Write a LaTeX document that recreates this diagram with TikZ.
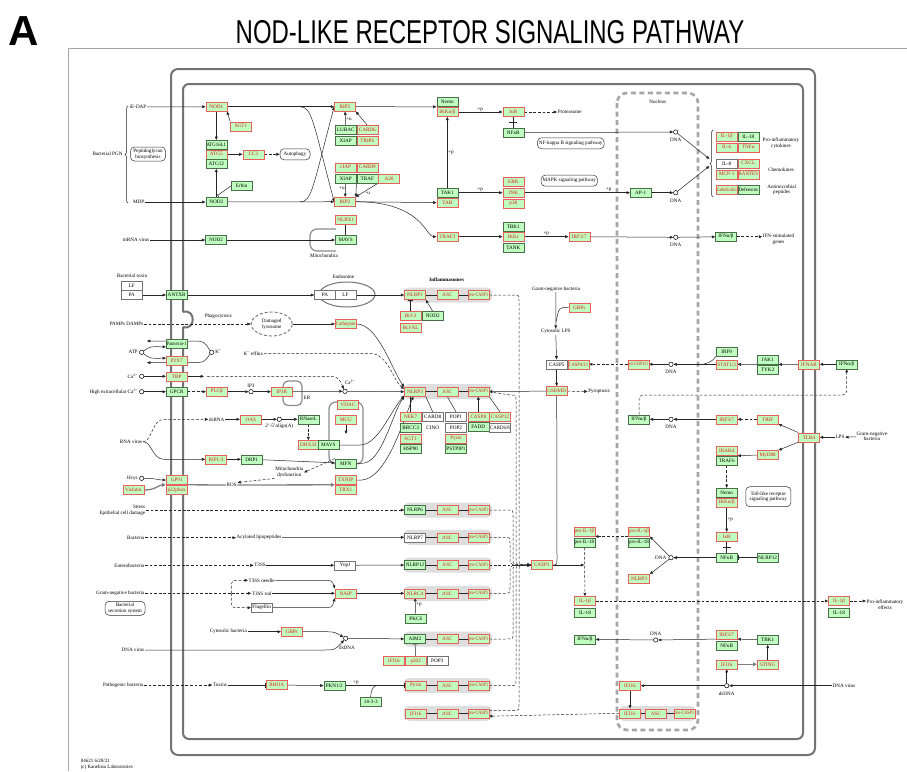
\documentclass[tikz,border=0pt]{standalone}
\usepackage{fontspec}
\usepackage{graphicx}
\setmainfont{Liberation Serif}
\newfontfamily\tf{Liberation Sans}
\usetikzlibrary{arrows.meta,decorations.pathreplacing,calc,shapes.geometric}
\pgfdeclarelayer{bg}
\pgfsetlayers{bg,main}
\definecolor{kfill}{HTML}{BFFFBF}
\definecolor{kred}{HTML}{E8605A}
\definecolor{ktxt}{HTML}{E01818}
\definecolor{kgrn}{HTML}{4A6E4A}
\newcommand{\gfs}{\fontsize{5.2}{5.2}\selectfont}
\newcommand{\lfs}{\fontsize{5.1}{5.7}\selectfont}
\newcommand{\fitt}[1]{\sbox0{#1}\ifdim\wd0>19.6pt\resizebox{19.6pt}{\height}{#1}\else#1\fi}
\newcommand{\gn}[5]{\node[#1] (#2) at (#3,#4) {\fitt{#5}};}
\tikzset{
 gbox/.style={rectangle, minimum width=21pt, minimum height=9pt, inner sep=0pt, line width=0.6pt, font=\gfs, fill=kfill},
 R/.style={gbox, draw=kred, text=ktxt},
 G/.style={gbox, draw=kgrn, text=black},
 W/.style={gbox, draw=black!55, fill=white, text=black},
 lab/.style={font=\lfs, inner sep=0.6pt, align=center, text=black},
 pbox/.style={draw=black!80, rounded corners=4pt, font=\lfs, align=center, inner sep=1.5pt, line width=0.5pt, fill=white},
 circ/.style={circle, draw=black, fill=white, inner sep=0pt, minimum size=4.4pt, line width=0.5pt},
 ln/.style={line width=0.5pt, draw=black!85},
 ar/.style={ln, -{Triangle[length=3.3pt,width=2.8pt]}},
 inh/.style={ln, -{Bar[width=5pt]}},
 ds/.style={dash pattern=on 2.8pt off 1.8pt},
 thk/.style={line width=1.3pt, draw=black!50},
 thkar/.style={thk, -{Triangle[length=3.8pt,width=3.8pt]}},
 frm/.style={draw=black!55, line width=2pt},
 ibg/.style={fill=black!13, rounded corners=5pt},
 mit/.style={draw=black!45, line width=1.2pt, rounded corners=7pt},
}
\begin{document}
\begin{tikzpicture}[x=1pt,y=-1pt]
\useasboundingbox (0,0) rectangle (907,771);
\begin{pgfonlayer}{bg}
\fill[white] (0,0) rectangle (907,771);
\draw[black!35, line width=0.6pt] (68,771) -- (68,48) -- (907,48);
\draw[frm, rounded corners=7pt] (171,69) rectangle (815,755);
\draw[frm, rounded corners=6pt] (183,312) -- (183,84) -- (803,84) -- (803,739) -- (183,739) -- (183,327);
\draw[frm] (183,312) .. controls (196,308) and (196,331) .. (183,327);
\draw[draw=black!35, line width=2.6pt, dash pattern=on 5pt off 3.5pt, rounded corners=10pt] (617,93) rectangle (698,730);
% mitochondria / ER / endosome
\draw[mit] (336,229) -| (310,251) -- (336,251);
\draw[mit] (329,402) rectangle (363,464);
\draw[mit, rounded corners=5pt] (283,381) rectangle (302,405.5);
\draw[black!55, line width=1pt] (347,294.5) ellipse [x radius=28, y radius=12.5];
% inflammasome backgrounds
\foreach \yy in {295,391.7,510,537.3,565,593.3,639,685.7,713.3}{\fill[ibg] (403.5,\yy-7.5) rectangle (492,\yy+7.5);}
\fill[ibg] (619,706) rectangle (696,721);
\end{pgfonlayer}

% title
\node[font=\tf\bfseries\fontsize{42}{42}\selectfont, inner sep=0] (A) at (24,31) {A};
\node[font=\tf\fontsize{33}{33}\selectfont, inner sep=0] (title) at (490,32) {\scalebox{0.726}[1]{NOD-LIKE RECEPTOR SIGNALING PATHWAY}};

% ---------- gene boxes ----------
\gn{R}{NOD1}{216.3}{106.7}{NOD1}
\gn{R}{SGTa}{241}{126.3}{SGT1}
\gn{G}{ATGa}{216.3}{144.7}{ATG16L1}
\gn{R}{ATGb}{216.3}{154.3}{ATG5}
\gn{G}{ATGc}{216.3}{164}{ATG12}
\gn{R}{LC3}{253.3}{154.3}{LC3}
\gn{G}{Erbin}{241.7}{186}{Erbin}
\gn{G}{NOD2a}{216.3}{202}{NOD2}
\gn{R}{RIPa}{345}{106.7}{RIP2}
\gn{G}{LUBAC}{345.7}{130}{LUBAC}
\gn{R}{CARD6}{367.3}{130}{CARD6}
\gn{G}{XIAPa}{345.7}{141}{XIAP}
\gn{R}{TRIP6}{367.3}{141}{TRIP6}
\gn{R}{cIAP}{345.7}{167.3}{cIAP}
\gn{R}{CARD9}{367.3}{167.3}{CARD9}
\gn{G}{XIAPb}{345.7}{178.3}{XIAP}
\gn{G}{TRAF}{367.3}{178.3}{TRAF}
\gn{R}{A20}{389}{178.3}{A20}
\gn{R}{RIPb}{345}{201.7}{RIP2}
\gn{R}{NLRX1}{345.7}{219.3}{NLRX1}
\gn{G}{MAVSa}{345.7}{240}{MAVS}
\gn{G}{NOD2b}{216}{240}{NOD2}
\gn{G}{Nemoa}{447.3}{102}{Nemo}
\gn{R}{IKKa}{447.3}{112}{IKKα/β}
\gn{R}{IkBa}{513.3}{112}{IκB}
\gn{G}{NFkBa}{513.3}{132.7}{NFκB}
\gn{G}{TAK1}{447.3}{192.7}{TAK1}
\gn{R}{TAB}{447.3}{202.7}{TAB}
\gn{R}{ERK}{513.3}{181.7}{ERK}
\gn{R}{JNK}{513.3}{192.7}{JNK}
\gn{R}{p38}{513.3}{203.3}{p38}
\gn{G}{AP1}{640.7}{192.7}{AP-1}
\gn{R}{TRAF3}{447.3}{236.7}{TRAF3}
\gn{G}{TBK1a}{513.3}{226.7}{TBK1}
\gn{R}{IKKe}{513.3}{236.7}{IKKε}
\gn{G}{TANK}{513.3}{247.3}{TANK}
\gn{R}{IRFa}{579.3}{236.7}{IRF3/7}
\gn{G}{IFNa}{726}{236.7}{IFNα/β}
\gn{R}{IL1ba}{726.7}{136.3}{IL-1β}
\gn{G}{IL18a}{748.3}{136.3}{IL-18}
\gn{R}{IL6}{726.7}{147.3}{IL-6}
\gn{R}{TNFa}{748.3}{147.3}{TNFα}
\gn{W}{IL8}{726.7}{163.3}{IL-8}
\gn{R}{CXCL}{748.3}{163.3}{CXCL}
\gn{R}{MCP1}{726.7}{174.3}{MCP-1}
\gn{R}{RANTES}{748.3}{174.3}{RANTES}
\gn{R}{Cathel}{726.7}{189.3}{Cathelicidin}
\gn{G}{Defens}{748.3}{189.3}{Defensins}
\gn{W}{LFa}{131.7}{285.7}{LF}
\gn{W}{PAa}{131.7}{295}{PA}
\gn{G}{ANTXR}{176.7}{295}{ANTXR}
\gn{W}{PAb}{325}{295}{PA}
\gn{W}{LFb}{345.5}{295}{LF}
\gn{R}{Cathep}{345.7}{324}{Cathepsin}
\gn{R}{NLRP1}{415}{295}{NLRP1}
\gn{R}{ASCa}{447.3}{295}{ASC}
\gn{R}{pCa}{478.3}{295}{pro-CASP1}
\gn{R}{Bcl2}{410.7}{316}{Bcl-2}
\gn{R}{BclXL}{410.7}{327.7}{Bcl-XL}
\gn{G}{NOD2c}{432.7}{316}{NOD2}
\gn{R}{GBPsa}{579.3}{307.3}{GBPs}
\gn{W}{CASP5}{556.7}{364.3}{CASP5}
\gn{R}{CASP411}{578.3}{364.3}{CASP4/11}
\gn{R}{pC411}{638.3}{364.3}{pro-CASP4/11}
\gn{R}{GSDMD}{556.7}{391}{GSDMD}
\gn{G}{IRF9}{726.7}{351.7}{IRF9}
\gn{R}{STAT}{726.7}{364.3}{STAT1/2}
\gn{G}{JAK1}{767.7}{359.7}{JAK1}
\gn{G}{TYK2}{767.7}{369.3}{TYK2}
\gn{R}{IFNAR}{809}{364.3}{IFNAR}
\gn{G}{IFNb}{846.7}{364.3}{IFNα/β}
\gn{G}{Panx}{176.7}{344}{Pannexin-1}
\gn{R}{P2X7}{176.7}{361}{P2X7}
\gn{R}{TRP}{176.7}{376.3}{TRP}
\gn{G}{GPCR}{176.7}{391.7}{GPCR}
\gn{R}{PLCb}{216.7}{391.7}{PLCβ}
\gn{R}{IP3R}{281.7}{391.7}{IP3R}
\gn{R}{VDAC}{348}{405}{VDAC}
\gn{R}{MCU}{346}{419.3}{MCU}
\gn{R}{NLRP3}{415}{391.7}{NLRP3}
\gn{R}{ASCc}{447.3}{391.7}{ASC}
\gn{R}{pCc}{478.3}{391.7}{pro-CASP1}
\gn{R}{NEK7}{410.7}{416.7}{NEK7}
\gn{W}{CARD8}{432.7}{416.7}{CARD8}
\gn{W}{POP1}{456}{416.7}{POP1}
\gn{R}{CASP8}{478.3}{416.7}{CASP8}
\gn{R}{CASP12}{500}{416.7}{CASP12}
\gn{G}{BRCC3}{410.7}{427.3}{BRCC3}
\node[lab,font=\gfs] (CINO) at (432.7,427.3) {CINO};
\gn{W}{POP2}{456}{427.3}{POP2}
\gn{G}{FADD}{478.3}{426.3}{FADD}
\gn{W}{CARD68}{500}{427.3}{CARD6/8}
\gn{R}{SGTb}{410.7}{438.3}{SGT1}
\gn{G}{HSP90}{410.7}{448.3}{HSP90}
\gn{R}{Pyrina}{456}{438.3}{Pyrin}
\gn{G}{PSTPIP1}{456}{448.3}{PSTPIP1}
\gn{R}{OAS}{250.7}{419.3}{OAS}
\gn{G}{RNaseL}{308.3}{419.3}{RNaseL}
\gn{R}{DHX33}{308.3}{445}{DHX33}
\gn{G}{MAVSb}{328.3}{445}{MAVS}
\gn{R}{RIP13}{216}{459.3}{RIP1/3}
\gn{G}{DRP1}{251.7}{459.3}{DRP1}
\gn{G}{MFN}{345.7}{463.3}{MFN}
\gn{R}{GP91}{176.7}{480}{GP91}
\gn{R}{p22}{176.7}{490}{p22phox}
\gn{R}{Visf}{133.3}{490}{Visfatin}
\gn{R}{TXNIP}{345.7}{480}{TXNIP}
\gn{R}{TRX1}{345.7}{490}{TRX1}
\gn{G}{NLRP6}{415}{510}{NLRP6}
\gn{R}{ASC6}{447.3}{510}{ASC}
\gn{R}{pC6}{478.3}{510}{pro-CASP1}
\gn{W}{NLRP7}{415}{537.3}{NLRP7}
\gn{R}{ASC7}{447.3}{537.3}{ASC}
\gn{R}{pC7}{478.3}{537.3}{pro-CASP1}
\gn{W}{YopJ}{345}{565.3}{YopJ}
\gn{G}{NLRP12a}{415}{565}{NLRP12}
\gn{R}{ASC12}{447.3}{565}{ASC}
\gn{R}{pC12}{478.3}{565}{pro-CASP1}
\gn{R}{CASP1}{541.7}{565}{CASP1}
\gn{R}{proIL1a}{584.3}{531.7}{pro-IL-1β}
\gn{G}{proIL18a}{584.3}{542.7}{pro-IL-18}
\gn{G}{IFNc}{639}{419.3}{IFNα/β}
\gn{R}{IRFb}{726.7}{419.3}{IRF3/7}
\gn{R}{TRIF}{767.7}{419.3}{TRIF}
\gn{R}{TLR4}{809}{437.3}{TLR4}
\gn{R}{MyD88}{767.7}{455}{MyD88}
\gn{R}{IRAK4}{726.7}{451}{IRAK4}
\gn{G}{TRAF6}{726.7}{460.7}{TRAF6}
\gn{G}{Nemob}{726.7}{492.7}{Nemo}
\gn{R}{IKKb}{726.7}{502.7}{IKKα/β}
\gn{R}{IkBb}{726.7}{536.7}{IκB}
\gn{G}{NFkBb}{726.7}{557.7}{NFκB}
\gn{G}{NLRP12b}{767.7}{557.7}{NLRP12}
\gn{R}{proIL1b}{639}{531.7}{pro-IL-1β}
\gn{G}{proIL18b}{639}{542.7}{pro-IL-18}
\gn{R}{NLRP3b}{639}{579}{NLRP3}
\gn{W}{Flag}{261.7}{607.7}{Flagellin}
\gn{R}{NAIP}{345.7}{593.3}{NAIP}
\gn{R}{NLRC4}{415}{593.3}{NLRC4}
\gn{R}{ASC4}{447.3}{593.3}{ASC}
\gn{R}{pC4}{478.3}{593.3}{pro-CASP1}
\gn{G}{PKCd}{415.7}{618.3}{PKCδ}
\gn{R}{GBPsb}{291.7}{631.7}{GBPs}
\gn{G}{AIM2}{415}{639}{AIM2}
\gn{R}{ASCm}{447.3}{639}{ASC}
\gn{R}{pCm}{478.3}{639}{pro-CASP1}
\gn{R}{IFI16a}{394}{661}{IFI16}
\gn{R}{p202}{415.7}{661}{p202}
\gn{W}{POP3}{437.3}{661}{POP3}
\gn{R}{RHOA}{276.7}{685}{RHOA}
\gn{G}{PKN}{334.3}{685.7}{PKN1/2}
\gn{G}{P1433}{370.7}{701.7}{14-3-3}
\gn{R}{Pyrinb}{415.7}{685.7}{Pyrin}
\gn{R}{ASCp}{447.3}{685.7}{ASC}
\gn{R}{pCp}{478.3}{685.7}{pro-CASP1}
\gn{R}{IFI16b}{415.7}{713.3}{IFI16}
\gn{R}{ASCi}{447.3}{713.3}{ASC}
\gn{R}{pCi}{478.3}{713.3}{pro-CASP1}
\gn{R}{IL1bb}{585}{601}{IL-1β}
\gn{G}{IL18b}{585}{612.3}{IL-18}
\gn{G}{IFNd}{585}{639.3}{IFNα/β}
\gn{R}{IRFc}{726.7}{634.3}{IRF3/7}
\gn{G}{NFkBc}{726.7}{645.7}{NFκB}
\gn{G}{TBK1b}{767.7}{640}{TBK1}
\gn{R}{IFI16c}{726.7}{664.3}{IFI16}
\gn{R}{STING}{767.7}{664.3}{STING}
\gn{R}{IFI16d}{630}{685.7}{IFI16}
\gn{R}{IFI16e}{630}{713.3}{IFI16}
\gn{R}{ASCn}{656}{713.3}{ASC}
\gn{R}{pCn}{684.3}{713.3}{pro-CASP1}
\gn{R}{IL1bc}{839}{601}{IL-1β}
\gn{G}{IL18c}{839}{612.3}{IL-18}

% ---------- small circles ----------
\node[circ] (dna1) at (675.7,132) {};
\node[circ] (dna2) at (675.7,192.7) {};
\node[circ] (dna3) at (675.7,237.3) {};
\node[circ] (atpc) at (141.7,352.3) {};
\node[circ] (kc) at (211.7,352.3) {};
\node[circ] (ca1c) at (141.7,376.3) {};
\node[circ] (ca2c) at (141.7,391.7) {};
\node[circ] (ip3c) at (251,391.7) {};
\node[circ] (ca3c) at (345,391.3) {};
\node[circ] (oligoc) at (279.3,419.3) {};
\node[circ] (hcysc) at (141.7,478.3) {};
\node[circ] (dsdna1) at (345.7,638.3) {};
\node[circ] (dna4) at (671,364.3) {};
\node[circ] (dna5) at (671,419.3) {};
\node[circ] (dna6) at (671,557.7) {};
\node[circ] (dna7) at (655.7,640) {};
\node[circ] (dsdna2) at (726.7,685.7) {};

% ---------- text labels ----------
\node[lab,anchor=east] (iedap) at (147,107) {iE-DAP};
\node[lab,anchor=east] (mdp) at (145,202) {MDP};
\node[lab] (pgn) at (107.5,154) {Bacterial PGN};
\node[pbox, minimum width=35pt, minimum height=14pt] (pgnsyn) at (148,154) {Peptidoglycan\\biosynthesis};
\node[pbox, minimum width=30pt, minimum height=11pt] (autoph) at (295,154.3) {Autophagy};
\node[lab,anchor=west] (proteas) at (557,112) {Proteasome};
\node[pbox, minimum height=11pt] (nfkbpw) at (570.7,143.3) {NF-kappa B signaling pathway};
\node[pbox, minimum height=11pt] (mapkpw) at (569.3,180.7) {MAPK signaling pathway};
\node[lab] (nucl) at (657.7,101.7) {Nucleus};
\node[lab] (dnal1) at (675.7,140) {DNA};
\node[lab] (dnal2) at (675.7,200.5) {DNA};
\node[lab] (dnal3) at (675.7,245) {DNA};
\node[lab] (cytok) at (781,143) {Pro-inflammatory\\cytokines};
\node[lab] (chemok) at (781,169.3) {Chemokines};
\node[lab] (amp) at (781.7,189.7) {Antimicrobial\\peptides};
\node[lab] (isg) at (778.5,239.5) {IFN-stimulated\\genes};
\node[lab,anchor=east] (mrna) at (150,240) {mRNA virus};
\node[lab] (mito1) at (324,256) {Mitochondria};
\node[lab] (btox) at (132,276) {Bacterial toxin};
\node[lab] (endo) at (343.3,277) {Endosome};
\node[lab] (phago) at (218.3,316.7) {Phagocytosis};
\node[lab,anchor=east] (pamps) at (144,324) {PAMPs DAMPs};
\node[ellipse, draw=black!55, line width=0.9pt, dash pattern=on 3pt off 2pt, minimum width=41pt, minimum height=24pt, inner sep=0, font=\lfs, align=center, fill=white] (dlys) at (271.7,324) {Damaged\\lysosome};
\node[lab,anchor=east] (atpl) at (138.5,352.3) {ATP};
\node[lab,anchor=west] (kl) at (214.5,351.8) {K\textsuperscript{+}};
\node[lab] (keff) at (253.3,353.3) {K\textsuperscript{+} efflux};
\node[lab,anchor=east] (cal) at (138.5,376.3) {Ca\textsuperscript{2+}};
\node[lab,anchor=east] (hecl) at (138.5,391.7) {High extracellular Ca\textsuperscript{2+}};
\node[lab] (ip3l) at (251,386) {IP3};
\node[lab] (erl) at (307,398) {ER};
\node[lab] (ca3l) at (350,382.5) {Ca\textsuperscript{2+}};
\node[lab,font=\bfseries\lfs] (inflt) at (446.7,280) {Inflammasomes};
\node[lab] (gnb1) at (556,289) {Gram-negative bacteria};
\node[lab] (clps) at (555.7,331.7) {Cytosolic LPS};
\node[lab,anchor=west] (pyro) at (587.5,391.7) {Pyroptosis};
\node[lab] (dnal4) at (671,372) {DNA};
\node[lab] (dsrna) at (216.7,419.3) {dsRNA};
\node[lab] (oligol) at (279.3,426.7) {2'-5'oligo(A)};
\node[lab,anchor=east] (rnav) at (143,441.7) {RNA virus};
\node[lab] (mitod) at (289.3,472.5) {Mitochondria\\dysfunction};
\node[lab,anchor=east] (hcysl) at (138.5,478.3) {Hcys};
\node[lab] (ros) at (231.7,485) {ROS};
\node[lab,anchor=east,align=right] (stress) at (146,510.5) {Stress\\Epithelial cell damage};
\node[lab,anchor=east] (bact) at (145,537.7) {Bacteria};
\node[lab] (acyl) at (259,537.7) {Acylated lipopeptides};
\node[lab,anchor=east] (entb) at (145,565.3) {Enterobacteria};
\node[lab] (t3ss) at (260,565.3) {T3SS};
\node[lab] (t3nd) at (261.7,580.3) {T3SS needle};
\node[lab,anchor=east] (gnb3) at (145,593.3) {Gram-negative bacteria};
\node[pbox, minimum width=40pt, minimum height=14pt] (bss) at (125,608.3) {Bacterial\\secretion system};
\node[lab] (t3rod) at (261.7,593.3) {T3SS rod};
\node[lab] (cytb) at (228.3,631.7) {Cytosolic bacteria};
\node[lab] (dsdnal1) at (347,647.5) {dsDNA};
\node[lab,anchor=east] (dnav1) at (145,650) {DNA virus};
\node[lab,anchor=east] (pathb) at (144,685) {Pathogenic bacteria};
\node[lab] (toxins) at (220,685) {Toxins};
\node[lab] (dnal5) at (671,427) {DNA};
\node[lab] (lps) at (840,437.3) {LPS};
\node[lab] (gnb2) at (872,436.3) {Gram-negative\\bacteria};
\node[pbox, minimum width=45pt, minimum height=20pt] (tlrpw) at (768.3,496.7) {Toll-like receptor\\signaling pathway};
\node[lab,anchor=east] (dnal6) at (667,557.7) {DNA};
\node[lab] (dnal7) at (655.7,634) {DNA};
\node[lab] (dsdnal2) at (726.7,694) {dsDNA};
\node[lab] (dnav2) at (844,685.7) {DNA virus};
\node[lab] (proeff) at (885,605) {Pro-inflammatory\\effects};
\node[lab,anchor=west,font=\fontsize{5}{5}\selectfont] (date) at (80,761) {04621 6/20/21};
\node[lab,anchor=west,font=\fontsize{5}{5}\selectfont] (copy) at (80,767) {(c) Kanehisa Laboratories};

% coordinates for free ends
\coordinate (br1) at (709.5,159);
\coordinate (br2) at (709.5,166);
\coordinate (katp1) at (147,341);
\coordinate (katp2) at (147,362.7);
\coordinate (trpe) at (204,376.3);
\coordinate (trpd) at (207,376.3);
\coordinate (mcue) at (346,434);
\coordinate (gbpj) at (556,322);
\coordinate (pilj) at (584.3,565);
\coordinate (gbr) at (231.7,593.3);
\coordinate (j1433) at (376,685.7);

% ---------- connectors ----------
\begin{pgfonlayer}{bg}
\draw[ln, decorate, decoration={brace, amplitude=3pt}] (128,203) -- (128,106);
\draw[ln, decorate, decoration={brace, amplitude=3pt}] (713,197) -- (713,130);
\draw[ar] (iedap) -- (NOD1);
\draw[ar] (mdp) -- (NOD2a);
\draw[ar] (SGTa.north west) -- (NOD1.south east);
\draw[ar] (NOD1) -- (ATGa);
\draw[ar] (NOD2a) -- (ATGc);
\draw[ar] (ATGb) -- (LC3);
\draw[ar,ds] (LC3) -- (autoph);
\draw[inh] (Erbin.west) -- (217.5,195.5);
\draw[ar] (NOD1) -- (RIPa);
\draw[ar] (NOD2a) -- (RIPb);
\draw[ar] (300,106.7) .. controls (312,106.7) and (313,122) .. (RIPb.west);
\draw[ar] (300,202) .. controls (312,202) and (313,186) .. (RIPa.west);
\draw[ar] (LUBAC) -- node[lab,right,pos=0.45]{+u} (RIPa);
\draw[ar] (CARD6.north) -- (RIPa.south east);
\draw[ar] (XIAPb) -- node[lab,left,pos=0.35]{+u} (RIPb);
\draw[ar] (TRAF.south west) -- (RIPb.north east);
\draw[ar] (A20.south west) -- node[lab,below right,pos=0.6]{-u} (RIPb.north east);
\draw[ar] (RIPa.east) -- (Nemoa.south west);
\draw[ar] (IKKa) -- node[lab,above]{+p} (IkBa);
\draw[ar,ds] (IkBa) -- (proteas);
\draw[ln] (IkBa) -- (NFkBa);
\draw[ln] ($(IkBa.south)!0.5!(NFkBa.north)+(-4,0)$) -- ++(8,0);
\draw[ar] (NFkBa) -- (dna1);
\draw[ar] (dna1) -- (br1);
\draw[ar] (TAK1) -- node[lab,right]{+p} (IKKa);
\draw[ar] (RIPb) -- (TAB);
\draw[ar] (TAK1) -- node[lab,above]{+p} (JNK);
\draw[ar] (JNK) -- node[lab,above,pos=0.8]{+p} (AP1);
\draw[ar] (AP1) -- (dna2);
\draw[ar] (dna2) -- (br2);
\draw[ar] (RIPb.east) .. controls (422,201.7) and (426,236.7) .. (TRAF3.west);
\draw[ar] (TRAF3) -- (IKKe);
\draw[ar] (IKKe) -- node[lab,above]{+p} (IRFa);
\draw[ar] (IRFa) -- (dna3);
\draw[ar] (dna3) -- (IFNa);
\draw[ar,ds] (IFNa) -- (isg.west |- IFNa);
\draw[ar] (mrna) -- (NOD2b);
\draw[ar] (NOD2b) -- (MAVSa);
\draw[inh] (NLRX1) -- (MAVSa);
\draw[ar] (PAa) -- (ANTXR);
\draw[ar] (ANTXR) -- (PAb);
\draw[ar] (LFb) -- (NLRP1);
\draw[ar,ds] (pamps) -- (dlys);
\draw[ar] (dlys) -- (Cathep);
\draw[ar] (Cathep.east) .. controls (378,324) and (392,370) .. (NLRP3.north west);
\draw[ar,ds] (keff.east) -- (370,353.3) .. controls (388,353.3) and (394,382) .. (NLRP3.165);
\draw[ar] (atpc) .. controls (150,346.5) .. (Panx.195);
\draw[ar] (atpc) .. controls (150,358.5) .. (P2X7.165);
\draw[ar] (kc.north west) .. controls (204,341) .. (192,341) -- (katp1);
\draw[ar] (kc.south west) .. controls (204,362.7) .. (192,362.7) -- (katp2);
\draw[ar] (ca1c) -- (TRP);
\draw[ar] (TRP) -- (trpe);
\draw[ar,ds] (trpd) -- (322,376.3) .. controls (338,376.3) .. (ca3c);
\draw[ar] (ca2c) -- (GPCR);
\draw[ar,ds] (GPCR) -- (PLCb);
\draw[ar] (PLCb) -- (ip3c);
\draw[ar] (ip3c) -- (IP3R);
\draw[ar] (IP3R) -- (ca3c);
\draw[ar] (ca3c) -- (NLRP3.west);
\draw[ar] (MAVSb.east) -- (360,445) .. controls (378,445) and (390,412) .. (NLRP3.200);
\draw[ar] (MFN.east) -- (362,463.3) .. controls (382,463.3) and (392,414) .. (NLRP3.south west);
\draw[ar] (TXNIP.east) -- (362,480) .. controls (386,478) and (402,425) .. (NLRP3.250);
\draw[ln] (NLRP1) -- (ASCa) -- (pCa);
\draw[ln] (NLRP3) -- (ASCc) -- (pCc);
\draw[ln] (NLRP6) -- (ASC6) -- (pC6);
\draw[ln] (NLRP7) -- (ASC7) -- (pC7);
\draw[ln] (NLRP12a) -- (ASC12) -- (pC12);
\draw[ln] (NLRC4) -- (ASC4) -- (pC4);
\draw[ln] (AIM2) -- (ASCm) -- (pCm);
\draw[ln] (Pyrinb) -- (ASCp) -- (pCp);
\draw[ln] (IFI16b) -- (ASCi) -- (pCi);
\draw[ln] (IFI16e) -- (ASCn) -- (pCn);
\draw[inh] (Bcl2.north) -- (Bcl2.north |- NLRP1.south);
\draw[ar] (NOD2c.north) -- (NLRP1.south east);
\draw[ln] (NEK7.north) -- (NEK7.north |- NLRP3.south);
\draw[ln] (CARD8.north) -- (NLRP3.south east);
\draw[ln] (POP1.north) -- (ASCc.south);
\draw[ar] (CASP8.north) -- (pCc.south);
\draw[ln] (CASP12.north) -- (pCc.south east);
\draw[ar] (gnb1) -- (clps);
\draw[ln] (GBPsa.west) .. controls (559,307.3) .. (gbpj);
\draw[ar] (clps) -- (CASP5);
\draw[ar] (CASP5) -- (GSDMD);
\draw[ar,ds] (pC411) -- (CASP411);
\draw[ar] (GSDMD) -- (pCc);
\draw[ar,ds] (GSDMD) -- (pyro);
\draw[ar] (IFNb) -- (IFNAR);
\draw[ar] (IFNAR.west) -- (JAK1.south east);
\draw[ar] (JAK1.south west) -- (STAT.east);
\draw[ar] (STAT) -- (dna4);
\draw[ar] (dna4) -- (pC411);
\draw[ln] (IRF9.south west) .. controls (711,362) .. (703,364.3);
\draw[ar,ds,rounded corners=4pt] (IFNc.north) |- (846.7,395) -- (IFNb.south);
\draw[ar] (gnb2) -- (lps);
\draw[ar] (lps) -- (TLR4);
\draw[ar] (TLR4.north west) -- (TRIF.south east);
\draw[ar] (TLR4.south west) -- (MyD88.north east);
\draw[ar,ds] (TRIF) -- (IRFb);
\draw[ar] (IRFb) -- (dna5);
\draw[ar] (dna5) -- (IFNc);
\draw[ar] (MyD88.west) -- (IRAK4.south east);
\draw[ar,ds] (TRAF6) -- (Nemob);
\draw[ar] (IKKb) -- node[lab,right]{+p} (IkBb);
\draw[ln] (IkBb) -- (NFkBb);
\draw[ln] ($(IkBb.south)!0.5!(NFkBb.north)+(-4,0)$) -- ++(8,0);
\draw[inh] (NLRP12b) -- (NFkBb);
\draw[ar] (NFkBb) -- (dna6);
\draw[ar] (dna6) -- (proIL1b.south east);
\draw[ar] (dna6) -- (NLRP3b.north east);
\draw[ar,ds] (proIL1b.south west) -- (proIL1a.south east);
\draw[ar,ds] (pCa.east) -- (513,295) .. controls (519,295) .. (519,301) -- (519,559) .. controls (519,565) .. (CASP1.west);
\draw[ar,ds] (pCc.east) -- (510,395) .. controls (516,395) .. (516,401) -- (516,559) .. controls (516,565) .. (CASP1.west);
\draw[ar,ds] (pC6.east) -- (507,510) .. controls (513,510) .. (513,516) -- (513,559) .. controls (513,565) .. (CASP1.west);
\draw[ar,ds] (pC7.east) -- (504,537.3) .. controls (510,537.3) .. (510,543) -- (510,559) .. controls (510,565) .. (CASP1.west);
\draw[ar,ds] (pC12) -- (CASP1);
\draw[ar,ds] (pC4.east) -- (504,593.3) .. controls (510,593.3) .. (510,587) -- (510,571) .. controls (510,565) .. (CASP1.west);
\draw[ar,ds] (pCm.east) -- (507,639) .. controls (513,639) .. (513,633) -- (513,571) .. controls (513,565) .. (CASP1.west);
\draw[ar,ds] (pCp.east) -- (510,685.7) .. controls (516,685.7) .. (516,679) -- (516,571) .. controls (516,565) .. (CASP1.west);
\draw[ar,ds] (pCi.15) -- (513,710.5) .. controls (519,710.5) .. (519,704) -- (519,571) .. controls (519,565) .. (CASP1.west);
\draw[ar,ds] (IFI16e.west) -- (pCi.345);
\draw[ar] (CASP1) -- (pilj);
\draw[ln] (CASP1.east) -- (552,565) .. controls (557,565) .. (557,559) -- (GSDMD.south);
\draw[ar,ds] (proIL18a) -- (IL1bb);
\draw[ar,ds] (IL1bb) -- (IL1bc);
\draw[ar,ds] (IL1bc) -- (proeff.west |- IL1bc);
\draw[ar] (IRFc.south west) -- (dna7);
\draw[ar] (dna7) -- (IFNd);
\draw[ar] (TBK1b) -- (IRFc.south east);
\draw[thkar] (IFI16c) -- (STING);
\draw[ar] (STING) -- (TBK1b);
\draw[ar] (dsdna2) -- (IFI16c);
\draw[ar] (dnav2) -- (dsdna2);
\draw[ar] (dsdna2) -- (IFI16d);
\draw[ar] (IFI16d) -- (IFI16e);
\draw[ar,ds] (rnav.east) .. controls (152,441.7) and (152,419.3) .. (164,419.3) -- (dsrna);
\draw[ar] (rnav.east) .. controls (152,441.7) and (152,459.3) .. (164,459.3) -- (RIP13);
\draw[ar] (dsrna) -- (OAS);
\draw[ar] (OAS) -- (oligoc);
\draw[ar] (oligoc) -- (RNaseL);
\draw[ar,ds] (RNaseL) -- (DHX33);
\draw[ar] (MCU) -- (mcue);
\draw[ar] (RIP13) -- (DRP1);
\draw[ar] (DRP1) -- (MFN);
\draw[ar,ds] (MFN.north west) -- (mitod.east);
\draw[ar,ds] (mitod.south west) -- (ros.north east);
\draw[ar] (hcysc) .. controls (156,478.3) and (158,480) .. (GP91.west);
\draw[thkar] (Visf.east) .. controls (156,490) and (158,485) .. (GP91.south west);
\draw[thk] (GP91.south east) -- (ros);
\draw[thkar] (ros) -- (TXNIP.south west);
\draw[ar,ds] (stress.east |- NLRP6) -- (NLRP6);
\draw[ar,ds] (bact) -- (acyl);
\draw[ar] (acyl) -- (NLRP7);
\draw[ar,ds] (entb) -- (t3ss);
\draw[ar] (t3ss) -- (YopJ);
\draw[ar] (YopJ) -- (NLRP12a);
\draw[ln,ds] (gnb3) -- (gbr);
\draw[ar,ds,rounded corners=3pt] (gbr) |- (t3nd.west);
\draw[ar,ds] (gbr) -- (t3rod);
\draw[ar,ds,rounded corners=3pt] (gbr) |- (Flag.west);
\draw[ar] (t3nd.east) -- (322,580.3) .. controls (332,580.3) .. (NAIP.north west);
\draw[ar] (t3rod) -- (NAIP);
\draw[ar] (Flag.east) -- (322,607.7) .. controls (332,607.7) .. (NAIP.south west);
\draw[ar] (NAIP) -- (NLRC4);
\draw[ar] (PKCd) -- node[lab,right,pos=0.55]{+p} (NLRC4);
\draw[ar] (cytb) -- (GBPsb);
\draw[ar] (GBPsb.east) -- (322,631.7) .. controls (334,631.7) .. (dsdna1);
\draw[ar] (dnav1) -- (322,650) .. controls (335,650) .. (dsdna1);
\draw[ar] (dsdna1) -- (AIM2);
\draw[inh] (p202) -- (AIM2);
\draw[ar,ds] (pathb) -- (toxins);
\draw[inh] (toxins) -- (RHOA);
\draw[ar] (RHOA) -- (PKN);
\draw[inh] (PKN) -- node[lab,above,pos=0.18]{+p} (Pyrinb);
\draw[ln] (P1433.north) .. controls (371,692) and (372,687) .. (j1433);
\end{pgfonlayer}
\end{tikzpicture}
\end{document}
